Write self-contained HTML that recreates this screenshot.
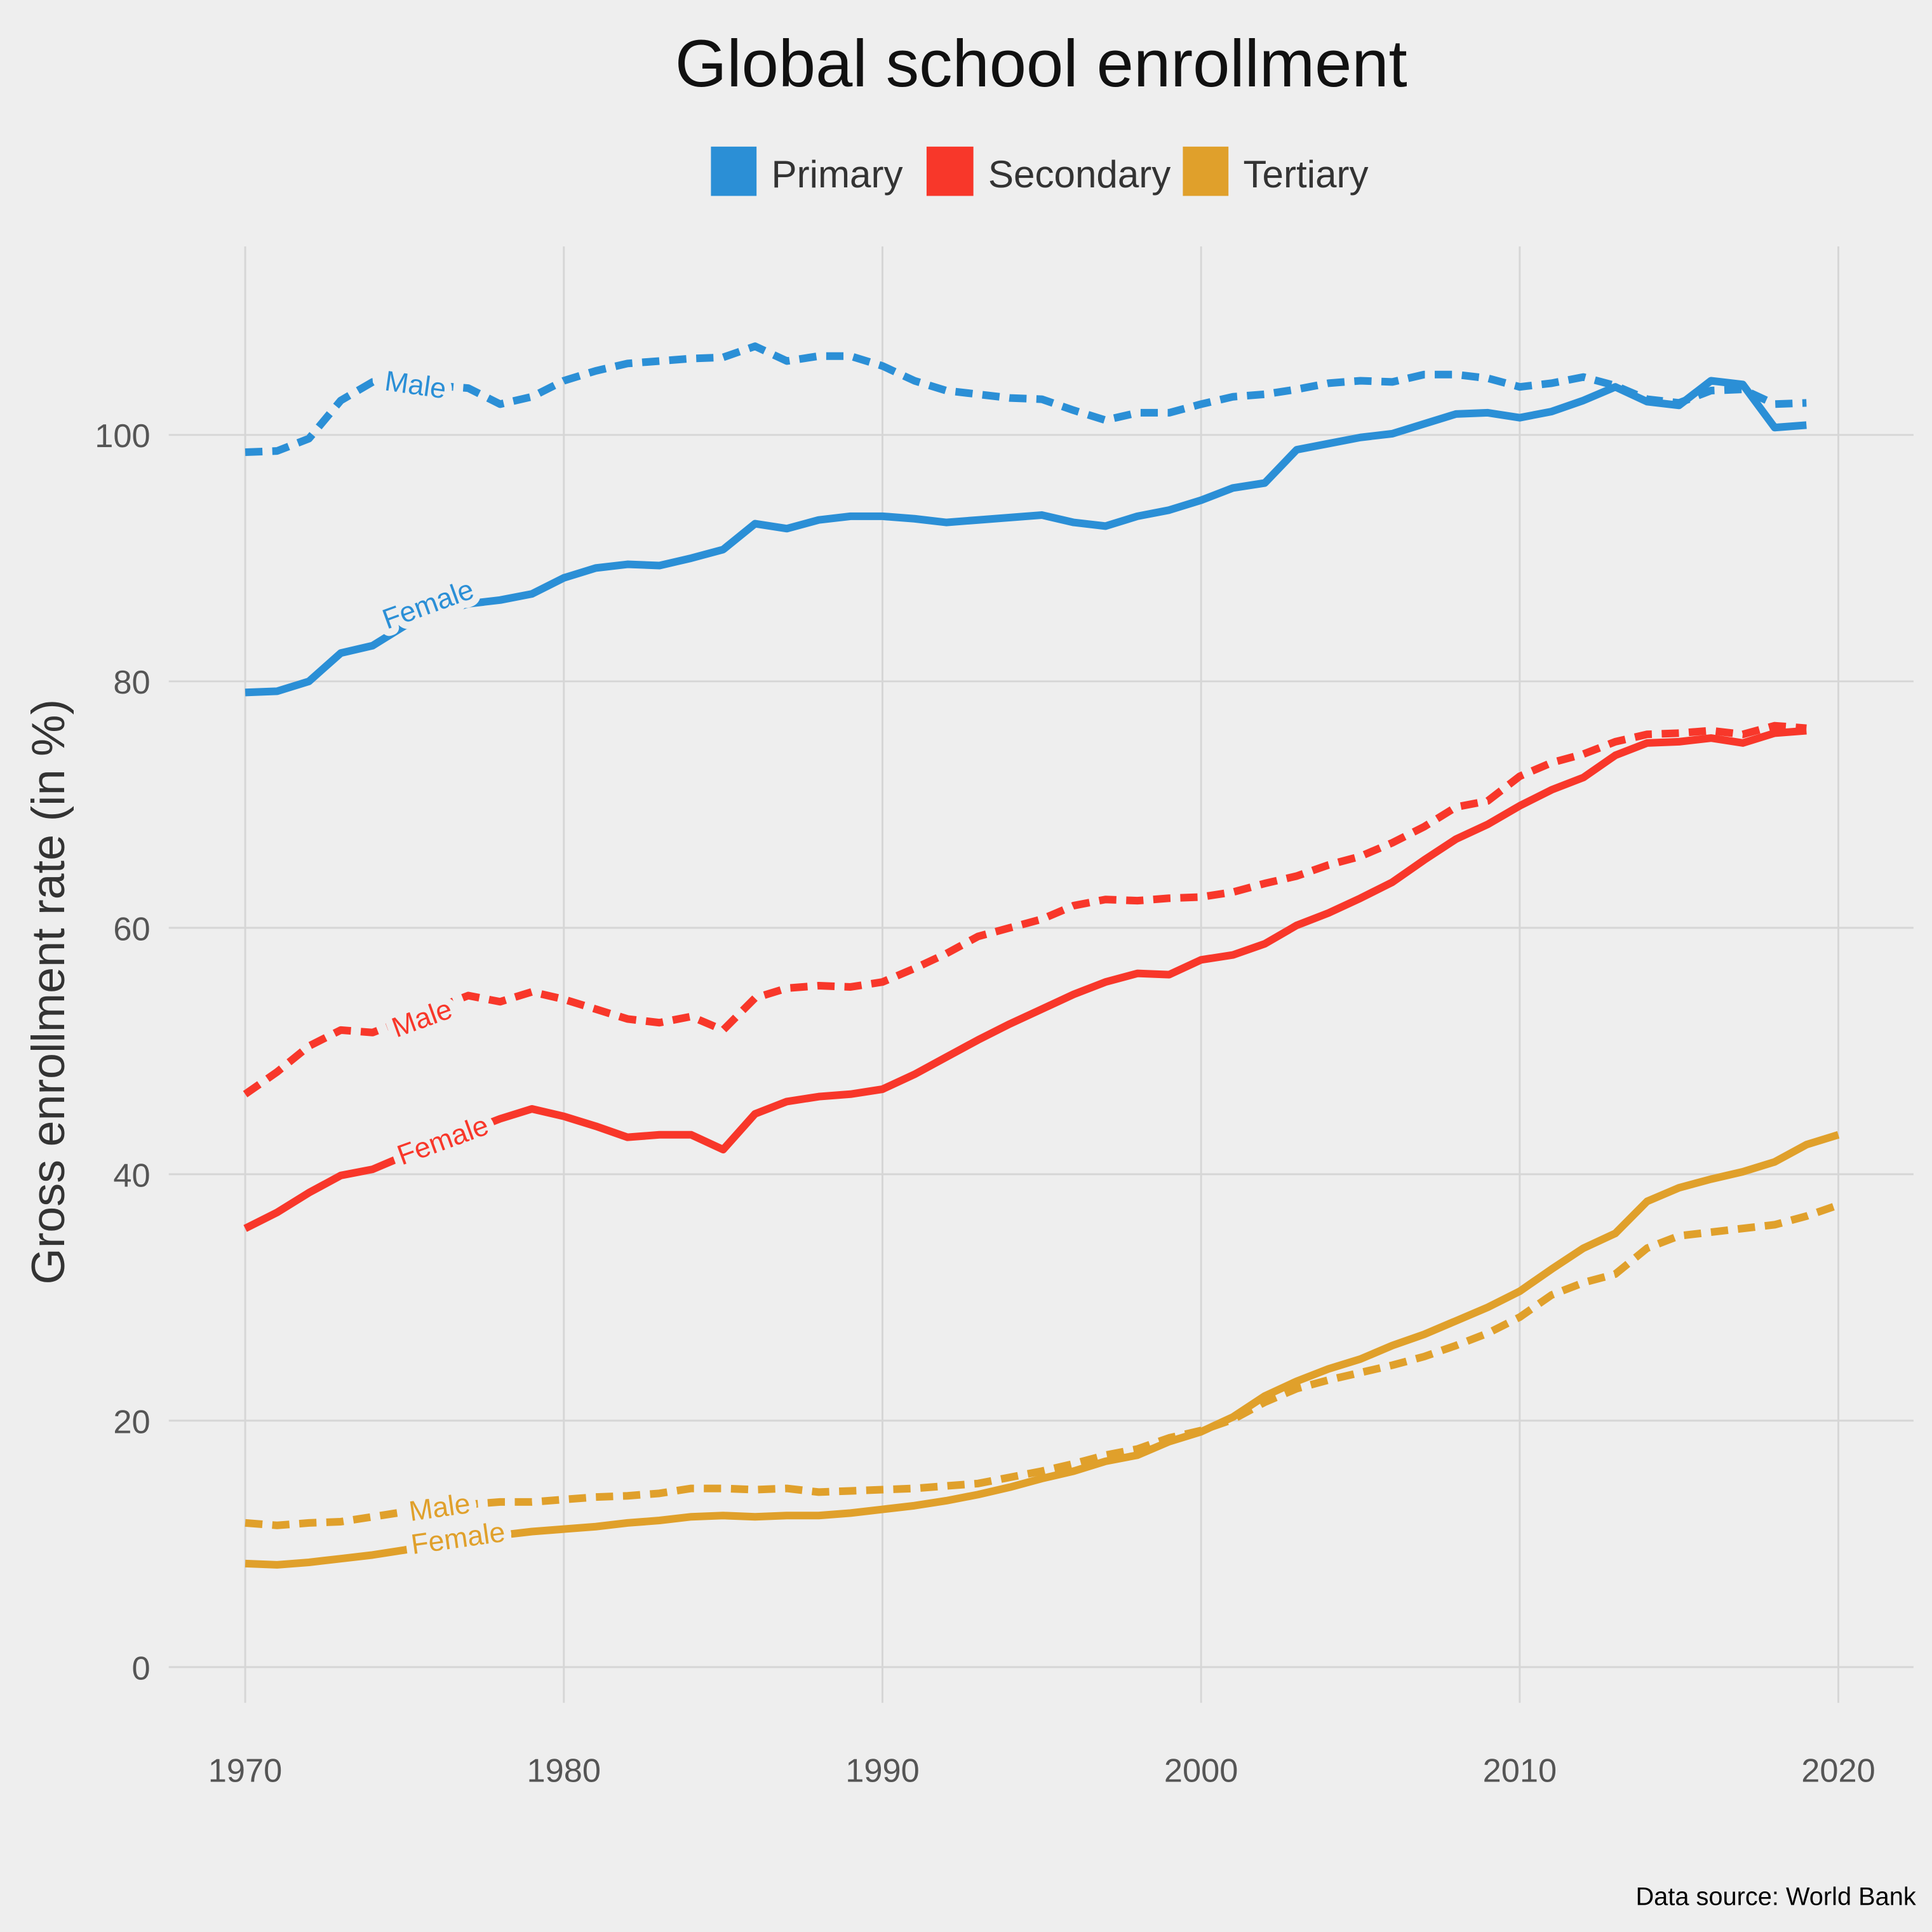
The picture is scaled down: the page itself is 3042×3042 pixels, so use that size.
<!DOCTYPE html>
<html><head><meta charset="utf-8">
<style>
html,body{margin:0;padding:0;background:#eeeeee;}
svg{display:block;}
text{font-family:"Liberation Sans","DejaVu Sans",sans-serif;}
</style></head>
<body>
<svg id="chart" width="3042" height="3042" viewBox="0 0 1568 1568" xmlns="http://www.w3.org/2000/svg">
<rect width="1568" height="1568" fill="#eeeeee"/>
<text x="845" y="70" text-anchor="middle" font-size="54" fill="#111">Global school enrollment</text>
<g>
<rect x="577" y="119" width="37" height="40" fill="#2b8fd6"/>
<text x="626" y="152" font-size="31" fill="#333">Primary</text>
<rect x="752" y="119" width="38" height="40" fill="#f8372a"/>
<text x="802" y="152" font-size="31" fill="#333">Secondary</text>
<rect x="960" y="119" width="37" height="40" fill="#e0a02b"/>
<text x="1009" y="152" font-size="31" fill="#333">Tertiary</text>
</g>
<g id="grid"></g>
<g id="ticks"></g>
<g id="series"></g>
<g id="labels"></g>
<text transform="translate(52,805) rotate(-90)" text-anchor="middle" font-size="38" fill="#333">Gross enrollment rate (in %)</text>
<text x="1555" y="1546" text-anchor="end" font-size="20.5" fill="#000">Data source: World Bank</text>
</svg>
<script>
const years = [];
for (let y = 1970; y <= 2020; y++) years.push(y);
const xTicks = [1970, 1980, 1990, 2000, 2010, 2020];
const yTicks = [0, 20, 40, 60, 80, 100];
const primaryFemale = [79.1,79.2,80.0,82.3,82.9,84.5,85.5,86.3,86.6,87.1,88.4,89.2,89.5,89.4,90.0,90.7,92.8,92.4,93.1,93.4,93.4,93.2,92.9,93.1,93.3,93.5,92.9,92.6,93.4,93.9,94.7,95.7,96.1,98.8,99.3,99.8,100.1,100.9,101.7,101.8,101.4,101.9,102.8,103.9,102.7,102.4,104.4,104.1,100.6,100.8];
const primaryMale = [98.6,98.7,99.7,102.8,104.3,104.5,104.0,103.8,102.5,103.1,104.4,105.2,105.8,106.0,106.2,106.3,107.2,106.0,106.4,106.4,105.6,104.4,103.6,103.3,103.0,102.9,102.0,101.2,101.8,101.8,102.5,103.1,103.3,103.7,104.2,104.4,104.3,104.9,104.9,104.6,103.9,104.2,104.7,104.0,102.9,102.6,103.6,103.7,102.5,102.6];
const secondaryFemale = [35.6,36.9,38.5,39.9,40.4,41.5,42.5,43.5,44.5,45.3,44.7,43.9,43.0,43.2,43.2,42.0,44.9,45.9,46.3,46.5,46.9,48.1,49.5,50.9,52.2,53.4,54.6,55.6,56.3,56.2,57.4,57.8,58.7,60.2,61.2,62.4,63.7,65.5,67.2,68.4,69.9,71.2,72.2,74.0,75.0,75.1,75.4,75.0,75.8,76.0];
const secondaryMale = [46.5,48.3,50.4,51.7,51.5,52.5,53.5,54.5,54.0,54.8,54.2,53.4,52.6,52.3,52.8,51.7,54.3,55.1,55.3,55.2,55.6,56.7,57.9,59.3,60.0,60.7,61.8,62.3,62.2,62.4,62.5,62.9,63.6,64.2,65.1,65.8,66.9,68.2,69.8,70.3,72.3,73.4,74.1,75.1,75.7,75.8,76.0,75.7,76.4,76.2];
const tertiaryFemale = [8.4,8.3,8.5,8.8,9.1,9.5,10.0,10.4,10.7,11.0,11.2,11.4,11.7,11.9,12.2,12.3,12.2,12.3,12.3,12.5,12.8,13.1,13.5,14.0,14.6,15.3,15.9,16.7,17.2,18.3,19.1,20.3,22.0,23.2,24.2,25.0,26.1,27.0,28.1,29.2,30.5,32.3,34.0,35.2,37.8,38.9,39.6,40.2,41.0,42.4,43.2];
const tertiaryMale = [11.7,11.5,11.7,11.8,12.2,12.6,12.9,13.2,13.4,13.4,13.6,13.8,13.9,14.1,14.5,14.5,14.4,14.5,14.2,14.3,14.4,14.5,14.7,14.9,15.4,15.9,16.5,17.2,17.7,18.6,19.2,20.1,21.5,22.6,23.3,23.9,24.5,25.2,26.1,27.1,28.4,30.2,31.2,31.9,34.0,35.0,35.3,35.6,35.9,36.6,37.5];

const NS = "http://www.w3.org/2000/svg";
const xs = y => 199 + (y - 1970) * (1492 - 199) / 50;
const ys = v => 1353 - v * 10;
function mk(tag, attrs, parent) {
  const e = document.createElementNS(NS, tag);
  for (const k in attrs) e.setAttribute(k, attrs[k]);
  parent.appendChild(e);
  return e;
}
const grid = document.getElementById('grid');
const ticks = document.getElementById('ticks');
xTicks.forEach(t => {
  const l = mk('line', {x1: xs(t), x2: xs(t), y1: 200, y2: 1382, stroke: '#d6d6d6', 'stroke-width': 1.5}, grid);
  
  
  const tx = mk('text', {x: xs(t), y: 1446, 'text-anchor': 'middle', 'font-size': 27, fill: '#555'}, ticks);
  tx.textContent = t;
  
  
});
yTicks.forEach(t => {
  const l = mk('line', {x1: 137, x2: 1553, y1: ys(t), y2: ys(t), stroke: '#d6d6d6', 'stroke-width': 1.5}, grid);
  
  
  const tx = mk('text', {x: 122, y: ys(t) + 10, 'text-anchor': 'end', 'font-size': 27, fill: '#555'}, ticks);
  tx.textContent = t;
  
  
});
const series = document.getElementById('series');
function drawLine(vals, color, dashed, name) {
  const d = vals.map((v, i) => (i ? 'L' : 'M') + xs(years[i]).toFixed(1) + ',' + ys(v).toFixed(1)).join(' ');
  const attrs = {d: d, fill: 'none', stroke: color, 'stroke-width': 6.2, 'stroke-linejoin': 'round'};
  if (dashed) attrs['stroke-dasharray'] = '14,8';
  const p = mk('path', attrs, series);
  
  
}
const BLUE = '#2b8fd6', RED = '#f8372a', GOLD = '#e0a02b';
drawLine(primaryMale, BLUE, true, 'line-primary-male');
drawLine(primaryFemale, BLUE, false, 'line-primary-female');
drawLine(secondaryMale, RED, true, 'line-secondary-male');
drawLine(secondaryFemale, RED, false, 'line-secondary-female');
drawLine(tertiaryMale, GOLD, true, 'line-tertiary-male');
drawLine(tertiaryFemale, GOLD, false, 'line-tertiary-female');

const labels = document.getElementById('labels');
function lab(txt, x, y, rot, color, name) {
  const t = mk('text', {x: 0, y: 0, transform: `translate(${x},${y}) rotate(${rot})`, 'text-anchor': 'middle', 'dominant-baseline': 'middle', 'font-size': 23, fill: color, stroke: '#eeeeee', 'stroke-width': 12, 'stroke-linejoin': 'round', 'paint-order': 'stroke'}, labels);
  t.textContent = txt;
  
  
}
lab('Male', 337, 314, 8, BLUE, 'label-primary-male');
lab('Female', 348, 492, -20, BLUE, 'label-primary-female');
lab('Male', 343, 828, -20, RED, 'label-secondary-male');
lab('Female', 360, 927, -20, RED, 'label-secondary-female');
lab('Male', 357, 1225, -8, GOLD, 'label-tertiary-male');
lab('Female', 372, 1250, -8, GOLD, 'label-tertiary-female');
</script>
</body></html>
